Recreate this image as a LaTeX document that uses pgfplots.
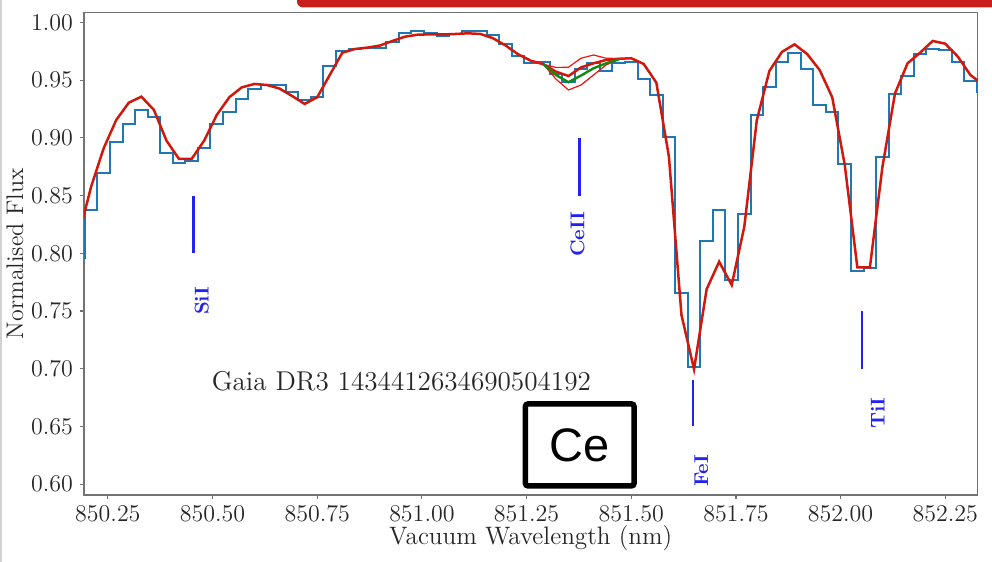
\documentclass[border=0pt]{standalone}
\usepackage{fontspec}
\usepackage{pgfplots}
\usepackage{pgfplotstable}
\pgfplotsset{compat=1.18}
\newfontfamily\arialfont{Liberation Sans}

\definecolor{specblue}{HTML}{1F77B4}
\definecolor{modred}{HTML}{D0190C}
\definecolor{thinred}{HTML}{F01414}
\definecolor{fitgreen}{HTML}{108A10}
\definecolor{lineblue}{HTML}{2323F0}
\definecolor{barred}{HTML}{C81E1E}

\pgfplotstableread{
x y
850.18 0.796
850.21 0.8375
850.24 0.870
850.27 0.896
850.30 0.912
850.33 0.924
850.36 0.918
850.39 0.887
850.42 0.878
850.45 0.880
850.48 0.891
850.51 0.912
850.54 0.922
850.57 0.934
850.60 0.942
850.63 0.9455
850.66 0.9455
850.69 0.940
850.72 0.933
850.75 0.935
850.78 0.962
850.81 0.975
850.84 0.977
850.87 0.978
850.90 0.978
850.93 0.9834
850.96 0.9906
850.99 0.993
851.02 0.9906
851.05 0.9885
851.08 0.990
851.11 0.9926
851.14 0.9926
851.17 0.989
851.20 0.981
851.23 0.9707
851.26 0.9646
851.29 0.9658
851.32 0.9552
851.35 0.9487
851.38 0.9596
851.41 0.9652
851.44 0.958
851.47 0.9652
851.50 0.966
851.53 0.9508
851.56 0.937
851.59 0.901
851.62 0.7659
851.65 0.7017
851.68 0.8107
851.71 0.8375
851.74 0.7769
851.77 0.8338
851.80 0.9198
851.83 0.9437
851.86 0.9655
851.89 0.9733
851.92 0.9597
851.95 0.9285
851.98 0.9227
852.01 0.8771
852.04 0.7849
852.07 0.787
852.10 0.8837
852.13 0.9378
852.16 0.9539
852.19 0.9727
852.22 0.977
852.25 0.976
852.28 0.9655
852.31 0.9493
852.34 0.940
}\observeddata

\pgfplotstableread{
x y
850.18 0.815
850.21 0.8577
850.24 0.891
850.27 0.9155
850.30 0.9305
850.33 0.9357
850.36 0.9242
850.39 0.8976
850.42 0.8817
850.45 0.8817
850.48 0.8976
850.51 0.9198
850.54 0.9352
850.57 0.9438
850.60 0.9467
850.63 0.9458
850.66 0.9427
850.69 0.9363
850.72 0.9294
850.75 0.9352
850.78 0.9545
850.81 0.9738
850.84 0.977
850.87 0.9782
850.90 0.980
850.93 0.984
850.96 0.9877
850.99 0.9894
851.02 0.9897
851.05 0.9896
851.08 0.990
851.11 0.9906
851.14 0.990
851.17 0.9863
851.20 0.980
851.23 0.9724
851.26 0.9669
851.29 0.9638
851.32 0.9574
851.35 0.9536
851.38 0.961
851.41 0.9646
851.44 0.9675
851.47 0.9685
851.50 0.969
851.53 0.964
851.56 0.9478
851.59 0.8837
851.62 0.7465
851.65 0.6995
851.68 0.7688
851.71 0.7927
851.74 0.7725
851.77 0.823
851.80 0.9155
851.83 0.958
851.86 0.9745
851.89 0.981
851.92 0.9727
851.95 0.9588
851.98 0.9352
852.01 0.8765
852.04 0.7879
852.07 0.7877
852.10 0.875
852.13 0.9386
852.16 0.9646
852.19 0.9738
852.22 0.984
852.25 0.9816
852.28 0.9704
852.31 0.9545
852.34 0.946
}\modeldata

\pgfplotstableread{
x y
851.26 0.9669
851.29 0.9638
851.32 0.961
851.35 0.9612
851.38 0.969
851.41 0.9718
851.44 0.969
851.47 0.9688
851.50 0.969
}\upperdata

\pgfplotstableread{
x y
851.26 0.9669
851.29 0.9638
851.32 0.951
851.35 0.9415
851.38 0.9458
851.41 0.9545
851.44 0.9632
851.47 0.968
851.50 0.969
}\lowerdata

\pgfplotstableread{
x y
851.29 0.9638
851.32 0.9545
851.35 0.9482
851.38 0.954
851.41 0.9603
851.44 0.9646
851.47 0.968
}\fitdata

\begin{document}
\begin{tikzpicture}
\path[use as bounding box] (0,0) rectangle (496pt,281pt);
\fill[barred, rounded corners=3pt] (148.5pt,277.3pt) rectangle (510pt,295pt);
\draw[black!18, line width=1pt] (0.5pt,0pt) -- (0.5pt,281pt);
\begin{axis}[
  at={(42pt,33.5pt)}, anchor=south west,
  scale only axis, width=446.75pt, height=241.35pt,
  xmin=850.193, xmax=852.327, ymin=0.5906, ymax=1.0088,
  axis line style={black!55, line width=0.65pt},
  xtick={850.25,850.50,850.75,851.00,851.25,851.50,851.75,852.00,852.25},
  ytick={0.60,0.65,0.70,0.75,0.80,0.85,0.90,0.95,1.00},
  scaled ticks=false,
  tick align=outside, tick pos=left,
  major tick length=2pt,
  tick style={black!55, line width=0.6pt},
  xticklabel style={/pgf/number format/.cd, fixed, fixed zerofill, precision=2, 1000 sep={}},
  yticklabel style={/pgf/number format/.cd, fixed, fixed zerofill, precision=2},
  tick label style={font=\fontsize{12.8}{14}\selectfont, text=black!85},
  xlabel={Vacuum Wavelength (nm)},
  ylabel={Normalised Flux},
  xlabel style={font=\fontsize{12.6}{14}\selectfont, text=black!85, at={(axis description cs:0.5,-0.089)}, anchor=center},
  ylabel style={font=\fontsize{12}{14}\selectfont, text=black!85, at={(axis description cs:-0.0772,0.5)}, anchor=center},
]
\addplot[specblue, line width=1pt, const plot mark mid] table[x=x,y=y]{\observeddata};
\addplot[modred, line width=1.25pt] table[x=x,y=y]{\modeldata};
\addplot[thinred, line width=0.6pt] table[x=x,y=y]{\upperdata};
\addplot[thinred, line width=0.6pt] table[x=x,y=y]{\lowerdata};
\addplot[fitgreen, line width=1.2pt] table[x=x,y=y]{\fitdata};
% line identifications
\addplot[lineblue, line width=1.25pt] coordinates {(850.455,0.80) (850.455,0.85)};
\addplot[lineblue, line width=1.25pt] coordinates {(851.377,0.85) (851.377,0.90)};
\addplot[lineblue, line width=1.25pt] coordinates {(851.647,0.65) (851.647,0.69)};
\addplot[lineblue, line width=1.25pt] coordinates {(852.051,0.70) (852.051,0.75)};
\node[rotate=90, text=lineblue, font=\bfseries\fontsize{10}{12}\selectfont] at (axis cs:850.4744,0.7587) {SiI};
\node[rotate=90, text=lineblue, font=\bfseries\fontsize{10}{12}\selectfont] at (axis cs:851.3714,0.8167) {CeII};
\node[rotate=90, text=lineblue, font=\bfseries\fontsize{10}{12}\selectfont] at (axis cs:851.6673,0.6114) {FeI};
\node[rotate=90, text=lineblue, font=\bfseries\fontsize{10}{12}\selectfont] at (axis cs:852.0888,0.6616) {TiI};
\node[text=black!85, font=\fontsize{13.6}{15}\selectfont] at (axis cs:850.951,0.6893) {Gaia DR3 1434412634690504192};
\end{axis}
\draw[black, line width=2.75pt, rounded corners=1.5pt, fill=white] (262.65pt,38pt) rectangle (317.1pt,79.1pt);
\node[font=\arialfont\fontsize{23.5}{26}\selectfont] at (289.7pt,58.5pt) {Ce};
\end{tikzpicture}
\end{document}
